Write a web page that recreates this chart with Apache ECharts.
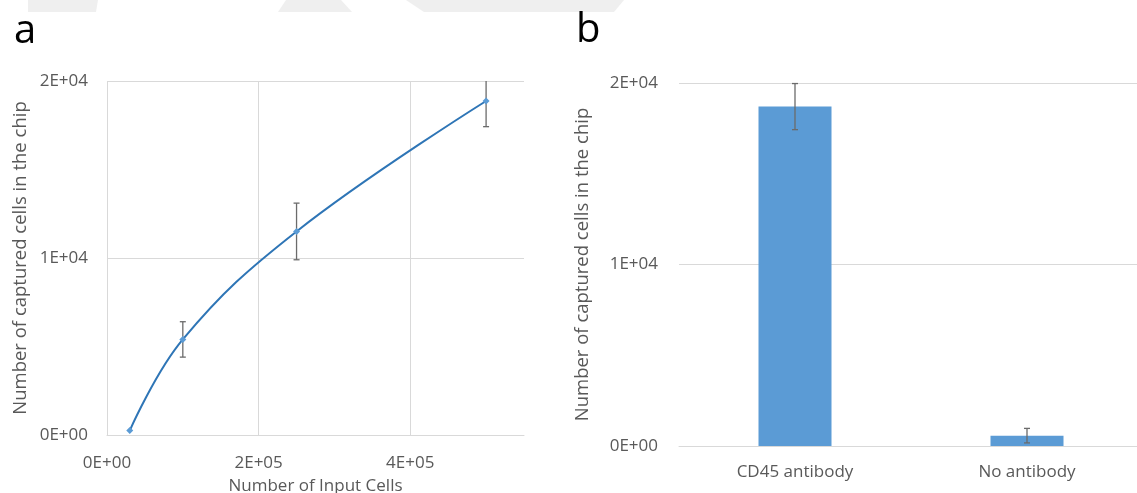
<!DOCTYPE html>
<html>
<head>
<meta charset="utf-8">
<script src="https://cdn.jsdelivr.net/npm/echarts@6/dist/echarts.min.js"></script>
<style>
html,body{margin:0;padding:0;background:#fff;}
#chart{width:1137px;height:493px;}
</style>
</head>
<body>
<div id="chart"></div>
<script>
// ---- Panel a data ----
const inputCells = [30000, 100000, 250000, 500000];
const capturedMean = [250, 5400, 11500, 18870];
const capturedErr = [0, 1000, 1600, 1450];
const xTicksA = [0, 200000, 400000];
const yTicks = [0, 10000, 20000];

// ---- Panel b data ----
const barCategories = ['CD45 antibody', 'No antibody'];
const barMeans = [18700, 570];
const barErrs = [1270, 400];

const TEXT = '#595959';
const GRID = '#d9d9d9';
const FONT = 'Open Sans';

function sci(v) {
  if (v === 0) return '0E+00';
  const e = Math.floor(Math.log10(Math.abs(v)) + 1e-9);
  const m = Math.round(v / Math.pow(10, e));
  return m + 'E' + (e >= 0 ? '+' : '-') + String(Math.abs(e)).padStart(2, '0');
}

function errRender(params, api) {
  const x = api.value(0), lo = api.value(1), hi = api.value(2);
  const cs = params.coordSys;
  const pLo = api.coord([x, lo]);
  const pHi = api.coord([x, hi]);
  let topY = pHi[1];
  let clipped = false;
  if (topY < cs.y) { topY = cs.y; clipped = true; }
  const cx = pLo[0];
  const cap = 3;
  const style = { stroke: '#6b6b6b', lineWidth: 1.3 };
  const children = [
    { type: 'line', shape: { x1: cx, y1: topY, x2: cx, y2: pLo[1] }, style: style },
    { type: 'line', shape: { x1: cx - cap, y1: pLo[1], x2: cx + cap, y2: pLo[1] }, style: style }
  ];
  if (!clipped) children.push({ type: 'line', shape: { x1: cx - cap, y1: topY, x2: cx + cap, y2: topY }, style: style });
  return { type: 'group', children: children };
}

const lineData = inputCells.map((x, i) => [x, capturedMean[i]]);
const errDataA = inputCells.map((x, i) => [x, capturedMean[i] - capturedErr[i], capturedMean[i] + capturedErr[i]])
  .filter((d, i) => capturedErr[i] > 0);
const errDataB = barCategories.map((c, i) => [i, barMeans[i] - barErrs[i], barMeans[i] + barErrs[i]]);

const chart = echarts.init(document.getElementById('chart'), null, { renderer: 'canvas' });

const axisLabelStyle = { color: TEXT, fontFamily: FONT, fontSize: 17 };

chart.setOption({
  backgroundColor: '#fff',
  animation: false,
  graphic: [
    { type: 'polygon', shape: { points: [[28,0],[98,0],[96,12],[28,12]] }, style: { fill: '#efefef' }, z: -10 },
    { type: 'polygon', shape: { points: [[286,0],[341,0],[352,12],[278,12]] }, style: { fill: '#efefef' }, z: -10 },
    { type: 'polygon', shape: { points: [[406,0],[624,0],[614,12],[424,12]] }, style: { fill: '#efefef' }, z: -10 },
    { type: 'text', left: 14, top: 12, style: { text: 'a', font: '40px "Open Sans"', fill: '#000' } },
    { type: 'text', left: 576, top: 11, style: { text: 'b', font: '40px "Open Sans"', fill: '#000' } }
  ],
  grid: [
    { left: 107, top: 81, width: 417, height: 354, outerBoundsMode: 'none', containLabel: false },
    { left: 679, top: 83, width: 464, height: 363, outerBoundsMode: 'none', containLabel: false }
  ],
  xAxis: [
    {
      gridIndex: 0, type: 'value', min: 0, max: 550000, interval: 200000,
      name: 'Number of Input Cells', nameLocation: 'middle', nameGap: 43,
      nameTextStyle: { color: TEXT, fontFamily: FONT, fontSize: 17 },
      axisLine: { show: true, lineStyle: { color: GRID, width: 1 } },
      axisTick: { show: false },
      axisLabel: Object.assign({ margin: 20, showMaxLabel: false,
        formatter: v => (xTicksA.indexOf(v) >= 0 ? sci(v) : '') }, axisLabelStyle),
      splitLine: { show: true, showMinLine: true, showMaxLine: false, lineStyle: { color: GRID, width: 1 } }
    },
    {
      gridIndex: 1, type: 'category', data: barCategories,
      axisLine: { show: true, lineStyle: { color: GRID, width: 1 } },
      axisTick: { show: false },
      axisLabel: Object.assign({ margin: 18 }, axisLabelStyle),
      splitLine: { show: false }
    }
  ],
  yAxis: [
    {
      gridIndex: 0, type: 'value', min: 0, max: 20000, interval: 10000,
      name: 'Number of captured cells in the chip', nameLocation: 'middle', nameGap: 77,
      nameTextStyle: { color: TEXT, fontFamily: FONT, fontSize: 18.5 },
      axisLine: { show: false }, axisTick: { show: false },
      axisLabel: Object.assign({ margin: 19, padding: [4, 0, 0, 0], formatter: v => (yTicks.indexOf(v) >= 0 ? sci(v) : '') }, axisLabelStyle),
      splitLine: { show: true, lineStyle: { color: GRID, width: 1 } }
    },
    {
      gridIndex: 1, type: 'value', min: 0, max: 20000, interval: 10000,
      name: 'Number of captured cells in the chip', nameLocation: 'middle', nameGap: 87,
      nameTextStyle: { color: TEXT, fontFamily: FONT, fontSize: 18.5 },
      axisLine: { show: false }, axisTick: { show: false },
      axisLabel: Object.assign({ margin: 21, padding: [4, 0, 0, 0], formatter: v => (yTicks.indexOf(v) >= 0 ? sci(v) : '') }, axisLabelStyle),
      splitLine: { show: true, lineStyle: { color: GRID, width: 1 } }
    }
  ],
  series: [
    {
      type: 'line', xAxisIndex: 0, yAxisIndex: 0, data: lineData,
      smooth: 0.4, symbol: 'diamond', symbolSize: 7, showSymbol: true,
      lineStyle: { color: '#2e75b6', width: 2 },
      itemStyle: { color: '#5b9bd5' }, z: 3
    },
    {
      type: 'custom', xAxisIndex: 0, yAxisIndex: 0, data: errDataA,
      renderItem: errRender, encode: { x: 0, y: [1, 2] }, z: 2
    },
    {
      type: 'bar', xAxisIndex: 1, yAxisIndex: 1, data: barMeans,
      barWidth: 73, itemStyle: { color: '#5b9bd5' }, z: 2
    },
    {
      type: 'custom', xAxisIndex: 1, yAxisIndex: 1, data: errDataB,
      renderItem: errRender, encode: { x: 0, y: [1, 2] }, z: 4
    }
  ]
});
</script>
</body>
</html>
